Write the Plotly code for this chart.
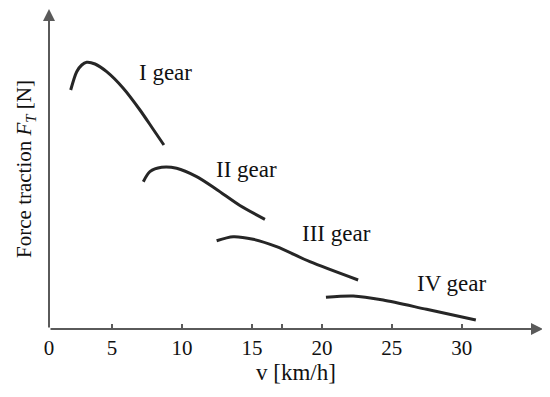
import plotly.graph_objects as go

# Data (v in km/h, force in arbitrary units)
gear1_v = [2.05, 2.48, 2.84, 3.19, 3.79, 4.62, 5.79, 7.0, 7.93, 8.71]
gear1_f = [239, 257.3, 264, 266.7, 265, 257.3, 241, 219, 200, 184]
gear2_v = [7.24, 7.71, 8.55, 9.62, 11.05, 12.48, 14.14, 15.93]
gear2_f = [147.3, 157.3, 161.7, 160.7, 152.3, 139.5, 123.5, 109.7]
gear3_v = [12.48, 13.66, 15.09, 16.76, 19.14, 22.59]
gear3_f = [88.3, 92.3, 89.7, 82.3, 67.3, 49]
gear4_v = [20.29, 22.24, 24.38, 27.48, 31.0]
gear4_f = [31.7, 33, 29, 19.7, 9]

gear_labels = ["I gear", "II gear", "III gear", "IV gear"]
label_v = [8.79, 14.64, 21.05, 29.3]
label_f = [257, 160, 96, 46]

tick_vals = [0.5, 5, 10, 15, 17.14, 20, 25, 30]
tick_text = ["0", "5", "10", "15", "", "20", "25", "30"]

X_MIN, X_MAX = 0.5, 35.8
Y_MIN, Y_MAX = 0, 320

FONT = "Liberation Serif, Times New Roman, serif"
LINE_COLOR = "#262626"
AXIS_COLOR = "#5a5a5a"

fig = go.Figure()
for v, f in [(gear1_v, gear1_f), (gear2_v, gear2_f), (gear3_v, gear3_f), (gear4_v, gear4_f)]:
    fig.add_trace(go.Scatter(x=v, y=f, mode="lines",
                             line=dict(color=LINE_COLOR, width=3, shape="spline", smoothing=0.8),
                             showlegend=False, hoverinfo="skip"))

for t, x, y in zip(gear_labels, label_v, label_f):
    fig.add_annotation(x=x, y=y, text=t, showarrow=False,
                       font=dict(family=FONT, size=23, color="#111"))

# axis arrows
fig.add_annotation(x=X_MAX, y=Y_MIN, ax=X_MIN, ay=Y_MIN, xref="x", yref="y",
                   axref="x", ayref="y", text="", showarrow=True,
                   arrowhead=2, arrowsize=1.2, arrowwidth=2, arrowcolor=AXIS_COLOR)
fig.add_annotation(x=X_MIN, y=Y_MAX, ax=X_MIN, ay=Y_MIN, xref="x", yref="y",
                   axref="x", ayref="y", text="", showarrow=True,
                   arrowhead=2, arrowsize=1.2, arrowwidth=2, arrowcolor=AXIS_COLOR)

# page body has an 8px margin, so the figure is sized to fit the 550x397 window
fig.update_layout(
    width=542, height=389,
    margin=dict(l=41, r=7, t=1, b=68),
    paper_bgcolor="white", plot_bgcolor="white",
    font=dict(family=FONT, size=21, color="#111"),
    xaxis=dict(range=[X_MIN, X_MAX], showgrid=False, zeroline=False, showline=False,
               automargin=False,
               tickmode="array", tickvals=tick_vals, ticktext=tick_text,
               ticks="inside", ticklen=5, tickwidth=1.5, tickcolor=AXIS_COLOR,
               tickfont=dict(family=FONT, size=21, color="#111"),
               ticklabelstandoff=4,
               title=dict(text="v [km/h]", font=dict(family=FONT, size=23, color="#111"),
                          standoff=3)),
    yaxis=dict(range=[Y_MIN, Y_MAX], showgrid=False, zeroline=False, showline=False,
               automargin=False,
               showticklabels=False, ticks="",
               title=dict(text="Force traction <i>F</i><sub><i>T</i></sub> [N]",
                          font=dict(family=FONT, size=21, color="#111"),
                          standoff=10)),
)

fig.write_html("out.html")
